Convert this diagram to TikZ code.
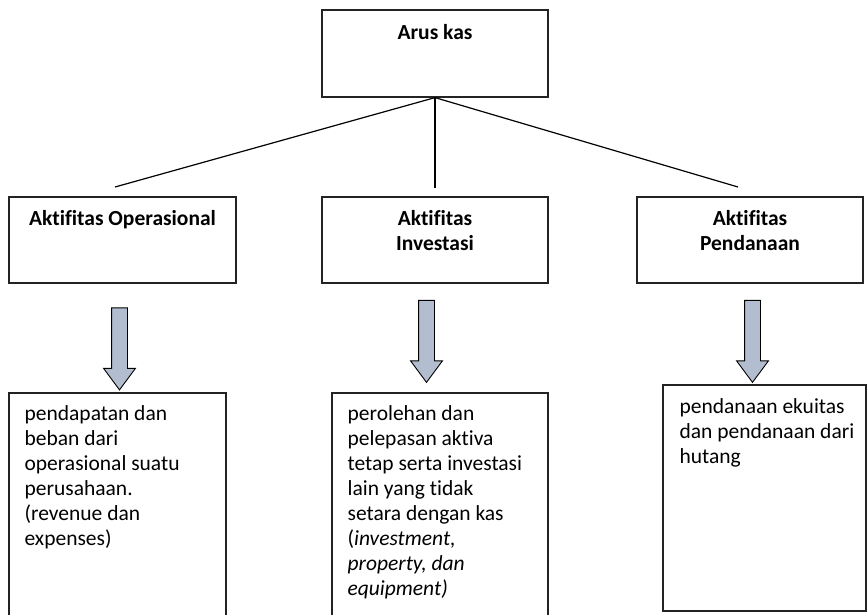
\documentclass[tikz,border=0pt]{standalone}
\usepackage{fontspec}
\setmainfont{Carlito}[Ligatures=NoCommon]
\usetikzlibrary{shapes.arrows, positioning}
\definecolor{ArusGrey}{RGB}{35, 35, 35}
\definecolor{ArusSteel}{RGB}{178, 189, 207}

\begin{document}
\begin{tikzpicture}[x=1pt, y=-1pt,
    box/.style={draw=ArusGrey, line width=1.2pt, inner sep=0pt},
    title/.style={font=\bfseries\fontsize{21.5}{25}\selectfont, align=center, inner sep=0pt},
    desc/.style={font=\fontsize{21.5}{25}\selectfont, align=left, inner sep=0pt},
    downarrow/.style={single arrow, draw=black, fill=ArusSteel, line width=0.9pt,
      rotate=-90, inner xsep=0pt, inner ysep=7.5pt, minimum height=82pt,
      single arrow head extend=8pt, single arrow tip angle=73}]
    \clip (0,0) rectangle (867,614);

    % Arus kas
    \node[box, minimum width=226pt, minimum height=87pt] (kas) at (435,53.5) {};
    \node[title, below=14.5pt of kas.north] (kasText) {Arus kas};

    % Aktifitas
    \node[box, minimum width=227pt, minimum height=86pt] (ops) at (122.5,240) {};
    \node[title, below=13.5pt of ops.north] (opsText) {Aktifitas Operasional};

    \node[box, minimum width=226pt, minimum height=86pt] (inv) at (435,240) {};
    \node[title, below=13.5pt of inv.north] (invText) {Aktifitas\\Investasi};

    \node[box, minimum width=226pt, minimum height=86pt] (dana) at (750,240) {};
    \node[title, below=13.5pt of dana.north] (danaText) {Aktifitas\\Pendanaan};

    % Connectors
    \coordinate (toOps) at (115,187);
    \coordinate (toInv) at (435,188);
    \coordinate (toDana) at (738,187);
    \draw[line width=1.2pt] (kas.south) -- (toOps);
    \draw[line width=1.2pt] (kas.south) -- (toInv);
    \draw[line width=1.2pt] (kas.south) -- (toDana);

    % Block arrows
    \node[downarrow] (arrOps) at (119.5,343.5) {};
    \node[downarrow] (arrInv) at (426.5,336) {};
    \node[downarrow] (arrDana) at (752.5,336) {};

    % Keterangan
    \node[box, minimum width=217pt, minimum height=235pt] (descOps) at (117.5,510.5) {};
    \node[desc, anchor=north west, below right=13pt and 16pt of descOps.north west] (descOpsText)
      {pendapatan dan\\beban dari\\operasional suatu\\perusahaan.\\(revenue dan\\expenses)};

    \node[box, minimum width=216pt, minimum height=235pt] (descInv) at (440,510.5) {};
    \node[desc, anchor=north west, below right=13pt and 16pt of descInv.north west] (descInvText)
      {perolehan dan\\pelepasan aktiva\\tetap serta investasi\\lain yang tidak\\setara dengan kas\\(\textit{investment,}\\\textit{property, dan}\\\textit{equipment)}};

    \node[box, minimum width=203pt, minimum height=226pt] (descDana) at (764.5,498) {};
    \node[desc, anchor=north west, below right=14pt and 17pt of descDana.north west] (descDanaText)
      {pendanaan ekuitas\\dan pendanaan dari\\hutang};
  \end{tikzpicture}
\end{document}
